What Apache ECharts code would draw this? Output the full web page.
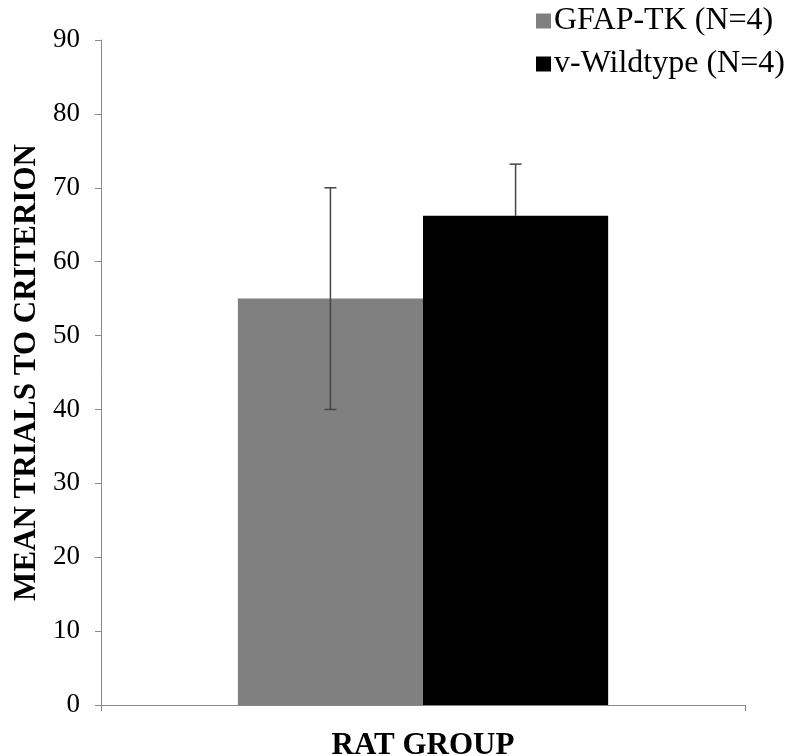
<!DOCTYPE html>
<html><head><meta charset="utf-8">
<script src="https://cdn.jsdelivr.net/npm/echarts@6/dist/echarts.min.js"></script>
<style>html,body{margin:0;padding:0;background:#fff}#c{width:793px;height:756px}</style>
</head><body><div id="c"></div>
<script>
var categories = [''];
var seriesNames = ['GFAP-TK (N=4)', 'v-Wildtype (N=4)'];
var means = [55, 66.2];
var errorsMinus = [15, 0];
var errorsPlus = [15, 7];
var colors = ['#808080', '#000000'];
var yTicks = {min: 0, max: 90, interval: 10};
var gapPct = 42.5;

var chart = echarts.init(document.getElementById('c'));
var font = '"Liberation Serif", "Times New Roman", serif';

var barSeries = seriesNames.map(function (n, i) {
  return {
    name: n, type: 'bar', data: [means[i]],
    itemStyle: {color: colors[i]},
    barGap: '0%', barCategoryGap: gapPct + '%', z: 2
  };
});

var errData = seriesNames.map(function (n, i) {
  return [0, means[i] - errorsMinus[i], means[i] + errorsPlus[i], i, errorsMinus[i] > 0 ? 1 : 0];
});

var errSeries = {
  type: 'custom', z: 5, silent: true,
  data: errData,
  renderItem: function (params, api) {
    var idx = api.value(3);
    var lo = api.coord([api.value(0), api.value(1)]);
    var hi = api.coord([api.value(0), api.value(2)]);
    var catW = api.size([1, 0])[0];
    var bw = catW * (1 - gapPct / 100) / seriesNames.length;
    var x = lo[0] - bw * seriesNames.length / 2 + bw * (idx + 0.5);
    var cap = 6;
    var st = {stroke: '#454545', lineWidth: 1.5};
    var ch = [
      {type: 'line', shape: {x1: x, y1: lo[1], x2: x, y2: hi[1]}, style: st},
      {type: 'line', shape: {x1: x - cap, y1: hi[1], x2: x + cap, y2: hi[1]}, style: st}
    ];
    if (api.value(4)) ch.push({type: 'line', shape: {x1: x - cap, y1: lo[1], x2: x + cap, y2: lo[1]}, style: st});
    return {type: 'group', children: ch};
  }
};

chart.setOption({
  animation: false,
  textStyle: {fontFamily: font},
  grid: {left: 101, right: 48, top: 40, bottom: 51, outerBoundsMode: 'none', containLabel: false},
  legend: {
    data: seriesNames, orient: 'vertical', left: 531, top: 0,
    itemWidth: 15, itemHeight: 15, itemGap: 11, icon: 'rect',
    textStyle: {fontFamily: font, fontSize: 32, color: '#000', padding: [0, 0, 0, -2]}
  },
  xAxis: {
    type: 'category', data: categories,
    name: 'RAT GROUP', nameLocation: 'middle', nameGap: 25,
    nameTextStyle: {fontFamily: font, fontSize: 31, fontWeight: 'bold', color: '#000'},
    axisLine: {lineStyle: {color: '#898989'}},
    axisTick: {show: true, length: 6, lineStyle: {color: '#898989'}},
    axisLabel: {show: false}
  },
  yAxis: {
    type: 'value', min: yTicks.min, max: yTicks.max, interval: yTicks.interval,
    name: 'MEAN TRIALS TO CRITERION', nameLocation: 'middle', nameGap: 58,
    nameTextStyle: {fontFamily: font, fontSize: 31, fontWeight: 'bold', color: '#000'},
    axisLine: {show: true, lineStyle: {color: '#898989'}},
    axisTick: {show: true, length: 6, lineStyle: {color: '#898989'}},
    axisLabel: {fontFamily: font, fontSize: 27, color: '#000', margin: 21},
    splitLine: {show: false}
  },
  series: barSeries.concat([errSeries])
});
</script></body></html>
